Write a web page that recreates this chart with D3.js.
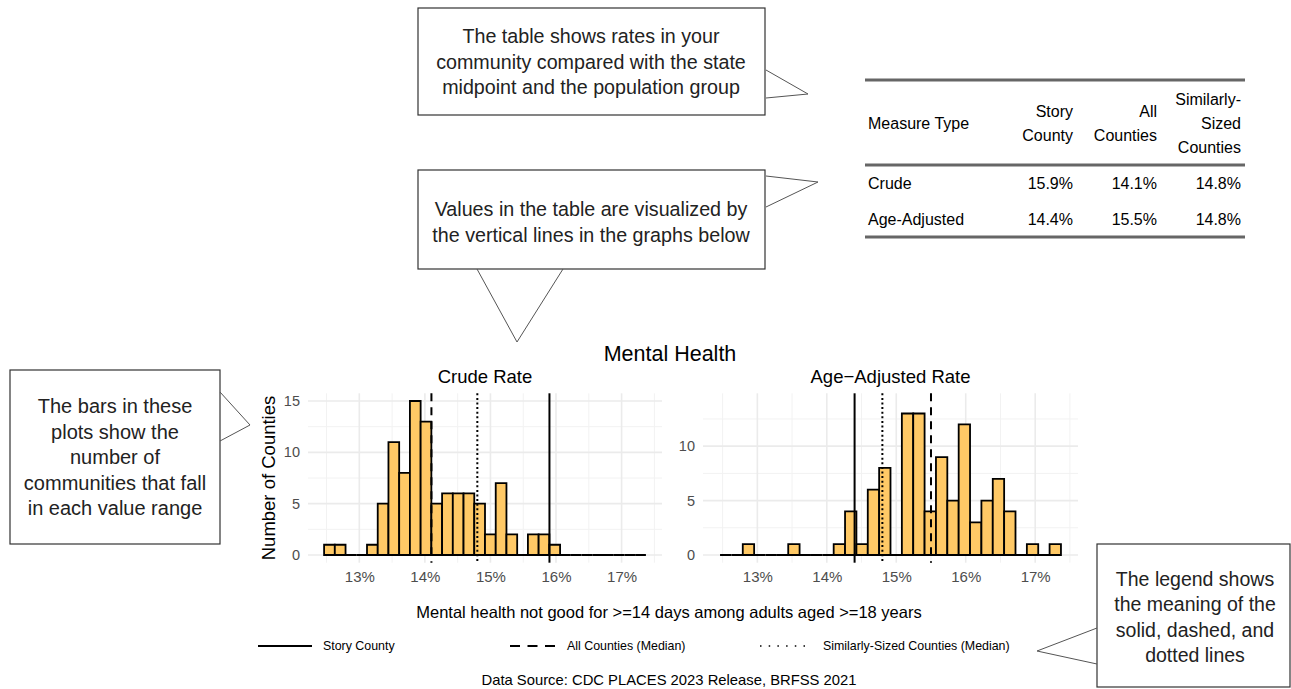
<!DOCTYPE html>
<html><head><meta charset="utf-8">
<script src="https://cdn.jsdelivr.net/npm/d3@7"></script>
<style>body{margin:0;background:#fff;} svg{display:block;font-family:"Liberation Sans",Arial,sans-serif;}</style>
</head><body><svg id="c" width="1291" height="689"></svg>
<script>
// ---------- data ----------
const binStart = 12.463;          // left edge of first histogram bin (%)
const binWidth = 0.1636;          // histogram bin width (%)
const crudeCounts = [1,1,0,0,1,5,11,8,15,13,5,6,6,6,5,2,7,2,0,2,2,1,0,0,0,0,0,0,0,0];
const ageAdjustedCounts = [0,0,1,0,0,0,1,0,0,0,1,4,1,6,8,0,13,13,4,9,5,12,3,5,7,4,0,1,0,1];
const measureTypes = ["Crude", "Age-Adjusted"];
const storyCountyRates = [15.9, 14.4];
const allCountiesMedian = [14.1, 15.5];
const similarCountiesMedian = [14.8, 14.8];
const xTickValues = [13, 14, 15, 16, 17];
const yTicksCrude = [0, 5, 10, 15];
const yTicksAgeAdjusted = [0, 5, 10];
const yLimitCrude = 15;
const yLimitAgeAdjusted = 14.15;
const panelTitles = ["Crude Rate", "Age\u2212Adjusted Rate"];
const legendLabels = ["Story County", "All Counties (Median)", "Similarly-Sized Counties (Median)"];
const tableHeaders = [["Measure Type"], ["Story", "County"], ["All", "Counties"], ["Similarly-", "Sized", "Counties"]];
const calloutTexts = [
  ["The table shows rates in your", "community compared with the state", "midpoint and the population group"],
  ["Values in the table are visualized by", "the vertical lines in the graphs below"],
  ["The bars in these", "plots show the", "number of", "communities that fall", "in each value range"],
  ["The legend shows", "the meaning of the", "solid, dashed, and", "dotted lines"]
];

// ---------- drawing ----------
const svg = d3.select("#c");
const fill = "#FFC966";
const gridMajor = "#EBEBEB";
const tickColor = "#4D4D4D";
const styles = [
  {dash: null, w: 2},
  {dash: "8,6", w: 2},
  {dash: "2,2.6", w: 2}
];

const panels = [
  {counts: crudeCounts, x0: 308, x1: 662, yLimit: yLimitCrude, yTicks: yTicksCrude,
   refs: [storyCountyRates[0], allCountiesMedian[0], similarCountiesMedian[0]], title: panelTitles[0], yTitle: true},
  {counts: ageAdjustedCounts, x0: 703, x1: 1078, yLimit: yLimitAgeAdjusted, yTicks: yTicksAgeAdjusted,
   refs: [storyCountyRates[1], allCountiesMedian[1], similarCountiesMedian[1]], title: panelTitles[1], yTitle: false}
];
const pTop = 393.3, pBot = 562.7;

panels.forEach(p => {
  const n = p.counts.length;
  const dMin = binStart, dMax = binStart + n * binWidth;
  const ex = (dMax - dMin) * 0.05;
  const x = d3.scaleLinear().domain([dMin - ex, dMax + ex]).range([p.x0, p.x1]);
  const ey = p.yLimit * 0.05;
  const y = d3.scaleLinear().domain([-ey, p.yLimit + ey]).range([pBot, pTop]);
  const g = svg.append("g");

  // grid
  const xd = x.domain(), yd = y.domain();
  const xMinor = d3.range(Math.ceil(xd[0] * 2) / 2, xd[1], 0.5).filter(v => !xTickValues.includes(v));
  const yMinor = d3.range(0, yd[1], 2.5).filter(v => v % 5 !== 0);
  g.selectAll(".vxm").data(xMinor).join("line").attr("x1", d => x(d)).attr("x2", d => x(d))
    .attr("y1", pTop).attr("y2", pBot).attr("stroke", "#F2F2F2").attr("stroke-width", 1);
  g.selectAll(".hym").data(yMinor).join("line").attr("y1", d => y(d)).attr("y2", d => y(d))
    .attr("x1", p.x0).attr("x2", p.x1).attr("stroke", "#F2F2F2").attr("stroke-width", 1);
  g.selectAll(".vx").data(xTickValues).join("line").attr("x1", d => x(d)).attr("x2", d => x(d))
    .attr("y1", pTop).attr("y2", pBot).attr("stroke", gridMajor).attr("stroke-width", 1.6);
  g.selectAll(".hy").data(p.yTicks).join("line").attr("y1", d => y(d)).attr("y2", d => y(d))
    .attr("x1", p.x0).attr("x2", p.x1).attr("stroke", gridMajor).attr("stroke-width", 1.6);

  // axes labels via d3 axes
  const xAxis = g.append("g").attr("transform", `translate(0,${pBot})`)
    .call(d3.axisBottom(x).tickValues(xTickValues).tickFormat(d => d + "%").tickSize(0).tickPadding(9));
  xAxis.select(".domain").remove();
  xAxis.selectAll("text").attr("fill", tickColor).attr("font-size", 15).attr("font-family", "Liberation Sans, Arial");
  const yAxis = g.append("g").attr("transform", `translate(${p.x0},0)`)
    .call(d3.axisLeft(y).tickValues(p.yTicks).tickSize(0).tickPadding(8));
  yAxis.select(".domain").remove();
  yAxis.selectAll("text").attr("fill", tickColor).attr("font-size", 14.5).attr("font-family", "Liberation Sans, Arial");

  // bars
  g.selectAll(".bar").data(p.counts).join("path")
    .attr("d", (c, i) => {
      const a = x(binStart + i * binWidth), b = x(binStart + (i + 1) * binWidth);
      return `M${a},${y(0)}V${y(c)}H${b}V${y(0)}Z`;
    })
    .attr("fill", fill).attr("stroke", "#000").attr("stroke-width", 1.8).attr("stroke-linejoin", "miter");

  // reference lines
  p.refs.forEach((v, k) => {
    g.append("line").attr("x1", x(v)).attr("x2", x(v)).attr("y1", pTop).attr("y2", pBot)
      .attr("stroke", "#000").attr("stroke-width", styles[k].w)
      .attr("stroke-dasharray", styles[k].dash);
  });

  // panel title
  g.append("text").attr("x", (p.x0 + p.x1) / 2).attr("y", 383).attr("text-anchor", "middle")
    .attr("font-size", 18.5).attr("fill", "#000").text(p.title);

  if (p.yTitle) {
    g.append("text").attr("transform", `translate(275,${(pTop + pBot) / 2}) rotate(-90)`)
      .attr("text-anchor", "middle").attr("font-size", 18.5).attr("fill", "#000").text("Number of Counties");
  }
});

// main title, x title, source
svg.append("text").attr("x", 670).attr("y", 361).attr("text-anchor", "middle").attr("font-size", 21.5).text("Mental Health");
svg.append("text").attr("x", 669).attr("y", 618).attr("text-anchor", "middle").attr("font-size", 16.5)
  .text("Mental health not good for >=14 days among adults aged >=18 years");
svg.append("text").attr("x", 669).attr("y", 685).attr("text-anchor", "middle").attr("font-size", 14.8)
  .text("Data Source: CDC PLACES 2023 Release, BRFSS 2021");

// legend
const legX = [258, 510, 760];
const legLen = [54, 46, 52];
legendLabels.forEach((lab, k) => {
  svg.append("line").attr("x1", legX[k]).attr("x2", legX[k] + legLen[k]).attr("y1", 646).attr("y2", 646)
    .attr("stroke", "#000").attr("stroke-width", k === 2 ? 1.3 : 2)
    .attr("stroke-dasharray", k === 0 ? null : (k === 1 ? "10,7.5" : "1.5,7.2"));
  svg.append("text").attr("x", legX[k] + legLen[k] + 11).attr("y", 650).attr("font-size", 12.4).text(lab);
});

// table
const colRight = [null, 1073, 1157, 1241];
const lineH = 24;
svg.append("line").attr("x1", 865).attr("x2", 1245).attr("y1", 80).attr("y2", 80).attr("stroke", "#666").attr("stroke-width", 3);
svg.append("line").attr("x1", 865).attr("x2", 1245).attr("y1", 165).attr("y2", 165).attr("stroke", "#666").attr("stroke-width", 3);
svg.append("line").attr("x1", 865).attr("x2", 1245).attr("y1", 237).attr("y2", 237).attr("stroke", "#666").attr("stroke-width", 3);
tableHeaders.forEach((lines, c) => {
  const n = lines.length;
  lines.forEach((t, j) => {
    const cy = 123 + (j - (n - 1) / 2) * lineH;
    svg.append("text").attr("x", c === 0 ? 868 : colRight[c]).attr("y", cy).attr("dy", "0.35em")
      .attr("text-anchor", c === 0 ? "start" : "end").attr("font-size", 16).text(t);
  });
});
const rowY = [183, 219];
measureTypes.forEach((m, r) => {
  svg.append("text").attr("x", 868).attr("y", rowY[r]).attr("dy", "0.35em").attr("font-size", 16).text(m);
  [storyCountyRates[r], allCountiesMedian[r], similarCountiesMedian[r]].forEach((v, c) => {
    svg.append("text").attr("x", colRight[c + 1]).attr("y", rowY[r]).attr("dy", "0.35em")
      .attr("text-anchor", "end").attr("font-size", 16).text(v.toFixed(1) + "%");
  });
});

// callouts
const callouts = [
  {x: 418, y: 8, w: 347, h: 107, cx: 591, cy: 62, ptr: [[766,70],[808,94],[766,98]], fs: 19.7},
  {x: 418, y: 170, w: 347, h: 99, cx: 591, cy: 222, ptr: [[766,176],[818,182],[766,207]], fs: 19.7, ptr2: [[477,269],[517,342],[563,269]]},
  {x: 10, y: 370, w: 210, h: 174, cx: 115, cy: 457, ptr: [[220,392],[250,425],[220,441]], fs: 20},
  {x: 1097, y: 544, w: 193, h: 143, cx: 1195, cy: 617, ptr: [[1097,628],[1037,651],[1097,664]], fs: 19.5}
];
callouts.forEach((c, i) => {
  svg.append("rect").attr("x", c.x).attr("y", c.y).attr("width", c.w).attr("height", c.h)
    .attr("fill", "#fff").attr("stroke", "#333").attr("stroke-width", 1.2);
  [c.ptr, c.ptr2].filter(Boolean).forEach(pt => {
    svg.append("polyline").attr("points", pt.map(d => d.join(",")).join(" "))
      .attr("fill", "none").attr("stroke", "#555").attr("stroke-width", 1);
  });
  const lines = calloutTexts[i];
  const lh = 25.5;
  lines.forEach((t, j) => {
    svg.append("text").attr("x", c.cx).attr("y", c.cy + (j - (lines.length - 1) / 2) * lh).attr("dy", "0.35em")
      .attr("text-anchor", "middle").attr("font-size", c.fs).attr("fill", "#222").text(t);
  });
});
</script></body></html>
